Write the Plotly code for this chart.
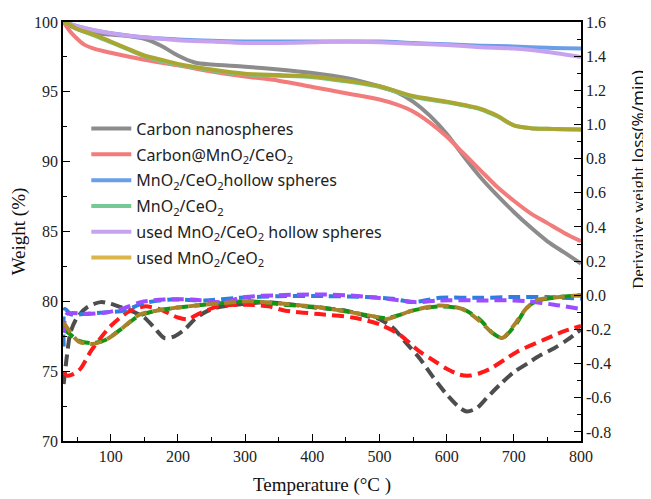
import plotly.graph_objects as go

# ---------------- data ----------------
names = ["Carbon nanospheres",
         "Carbon@MnO<sub>2</sub>/CeO<sub>2</sub>",
         "MnO<sub>2</sub>/CeO<sub>2</sub>hollow spheres",
         "MnO<sub>2</sub>/CeO<sub>2</sub>",
         "used MnO<sub>2</sub>/CeO<sub>2</sub> hollow spheres",
         "used MnO<sub>2</sub>/CeO<sub>2</sub>"]

# TGA weight (%) curves
t_gray = [30, 50, 75, 100, 125, 150, 175, 200, 225, 250, 300, 350, 400, 450, 500, 525, 550, 575, 600, 625, 650, 675, 700, 725, 750, 775, 800]
w_gray = [100, 99.5, 99.2, 99.1, 99.0, 98.8, 98.3, 97.6, 97.1, 96.95, 96.8, 96.6, 96.35, 96.0, 95.4, 95.0, 94.3, 93.3, 92.0, 90.4, 88.9, 87.6, 86.4, 85.3, 84.3, 83.5, 82.7]

t_red = [30, 40, 50, 60, 75, 100, 150, 200, 250, 300, 350, 400, 450, 500, 525, 550, 575, 600, 625, 650, 675, 700, 725, 750, 775, 800]
w_red = [100, 99.3, 98.8, 98.4, 98.1, 97.8, 97.3, 96.9, 96.45, 96.1, 95.8, 95.35, 94.9, 94.45, 94.1, 93.6, 92.8, 91.8, 90.6, 89.4, 88.2, 87.2, 86.3, 85.6, 84.9, 84.3]

t_blue = [30, 50, 75, 100, 150, 200, 250, 300, 350, 400, 450, 500, 550, 600, 650, 700, 750, 800]
w_blue = [100, 99.7, 99.4, 99.2, 98.9, 98.75, 98.65, 98.6, 98.6, 98.6, 98.6, 98.6, 98.5, 98.4, 98.3, 98.25, 98.15, 98.1]

t_green = [30, 40, 50, 75, 100, 125, 150, 175, 200, 250, 300, 350, 400, 450, 500, 550, 600, 650, 675, 700, 725, 750, 800]
w_green = [100, 99.8, 99.5, 99.05, 98.55, 98.05, 97.55, 97.2, 96.95, 96.55, 96.25, 96.15, 96.05, 95.75, 95.35, 94.65, 94.25, 93.75, 93.25, 92.6, 92.4, 92.35, 92.3]

t_purple = [30, 50, 100, 150, 200, 250, 300, 350, 400, 450, 500, 550, 600, 650, 700, 750, 800]
w_purple = [100, 99.7, 99.2, 98.9, 98.7, 98.6, 98.5, 98.5, 98.55, 98.6, 98.55, 98.45, 98.35, 98.2, 98.1, 97.85, 97.5]

t_olive = [30, 40, 50, 75, 100, 125, 150, 175, 200, 250, 300, 350, 400, 450, 500, 550, 600, 650, 675, 700, 725, 750, 800]
w_olive = [100, 99.8, 99.5, 99.1, 98.6, 98.1, 97.6, 97.3, 97.0, 96.6, 96.3, 96.2, 96.1, 95.8, 95.4, 94.7, 94.3, 93.8, 93.3, 92.6, 92.4, 92.35, 92.3]

# DTG derivative weight loss (%/min) curves
td_gray = [30, 35, 40, 50, 65, 85, 100, 115, 130, 150, 165, 180, 195, 210, 225, 240, 260, 300, 330, 360, 400, 450, 480, 500, 520, 540, 560, 580, 600, 620, 630, 645, 660, 680, 700, 720, 740, 760, 780, 800]
d_gray = [-0.52, -0.35, -0.22, -0.13, -0.07, -0.04, -0.05, -0.07, -0.09, -0.13, -0.19, -0.25, -0.24, -0.20, -0.14, -0.10, -0.07, -0.05, -0.04, -0.05, -0.07, -0.09, -0.12, -0.14, -0.19, -0.28, -0.37, -0.48, -0.58, -0.66, -0.68, -0.66, -0.60, -0.52, -0.45, -0.40, -0.35, -0.31, -0.26, -0.20]

td_red = [30, 35, 45, 55, 70, 85, 100, 125, 150, 175, 200, 215, 230, 260, 300, 335, 360, 410, 460, 500, 530, 560, 580, 600, 620, 635, 650, 665, 685, 705, 745, 775, 800]
d_red = [-0.45, -0.47, -0.46, -0.43, -0.33, -0.25, -0.18, -0.10, -0.065, -0.085, -0.13, -0.14, -0.11, -0.065, -0.055, -0.065, -0.09, -0.11, -0.13, -0.17, -0.23, -0.33, -0.38, -0.43, -0.465, -0.47, -0.455, -0.43, -0.38, -0.33, -0.26, -0.21, -0.18]

td_blue = [30, 32, 40, 60, 90, 120, 150, 190, 240, 290, 350, 420, 480, 520, 550, 590, 650, 700, 750, 800]
d_blue = [-0.30, -0.08, -0.11, -0.11, -0.10, -0.09, -0.045, -0.025, -0.03, -0.015, -0.005, -0.005, -0.01, -0.02, -0.04, -0.015, -0.015, -0.01, -0.01, -0.02]

td_green = [30, 37, 52, 73, 93, 118, 142, 168, 193, 227, 268, 307, 358, 410, 459, 500, 510, 530, 549, 589, 623, 649, 668, 683, 703, 718, 733, 768, 800]
d_green = [-0.20, -0.22, -0.265, -0.28, -0.26, -0.19, -0.12, -0.09, -0.075, -0.06, -0.045, -0.035, -0.055, -0.07, -0.10, -0.13, -0.135, -0.115, -0.09, -0.065, -0.08, -0.14, -0.22, -0.25, -0.17, -0.08, -0.035, -0.01, 0.0]

td_purple = [30, 35, 65, 95, 120, 145, 180, 220, 265, 300, 345, 410, 450, 485, 520, 555, 590, 650, 700, 720, 760, 800]
d_purple = [-0.22, -0.11, -0.11, -0.10, -0.075, -0.04, -0.025, -0.025, -0.04, -0.01, 0.0, 0.005, 0.0, -0.01, -0.025, -0.04, -0.03, -0.03, -0.03, -0.035, -0.055, -0.08]

td_brown = [30, 37, 52, 73, 93, 118, 142, 168, 193, 227, 268, 307, 358, 410, 459, 500, 510, 530, 549, 589, 623, 649, 668, 683, 703, 718, 733, 768, 800]
d_brown = [-0.16, -0.20, -0.27, -0.285, -0.26, -0.19, -0.115, -0.09, -0.075, -0.06, -0.045, -0.035, -0.05, -0.07, -0.10, -0.13, -0.14, -0.115, -0.09, -0.06, -0.08, -0.15, -0.22, -0.25, -0.16, -0.08, -0.03, -0.01, 0.0]

x_ticks = [100, 200, 300, 400, 500, 600, 700, 800]
y_ticks = [70, 75, 80, 85, 90, 95, 100]
y2_ticks = [-0.8, -0.6, -0.4, -0.2, 0.0, 0.2, 0.4, 0.6, 0.8, 1.0, 1.2, 1.4, 1.6]

# ---------------- styles ----------------
solid_colors = ["#8c8c8c", "#f27b7b", "#6a9ee8", "#74c995", "#c6a2ef", "#d9b54c"]
olive_plot = "#aaa632"
dash_colors = ["#4d4d4d", "#ff1a1a", "#2b7fe0", "#149414", "#9b4dff", "#a8832a"]
LW = 4
DASH = "12px,6px"

fig = go.Figure()

solid_data = [(t_gray, w_gray), (t_red, w_red), (t_blue, w_blue),
              (t_green, w_green), (t_purple, w_purple), (t_olive, w_olive)]
dtg_data = [(td_gray, d_gray), (td_red, d_red), (td_blue, d_blue),
            (td_green, d_green), (td_purple, d_purple), (td_brown, d_brown)]

# DTG dashed curves on right axis
for i, (tx, dy) in enumerate(dtg_data):
    fig.add_trace(go.Scatter(x=tx, y=dy, yaxis="y2", mode="lines",
                             line=dict(color=dash_colors[i], width=LW, dash=DASH, shape="spline", smoothing=0.8),
                             showlegend=False, hoverinfo="skip"))

# TGA solid curves on left axis
for i, (tx, wy) in enumerate(solid_data):
    col = olive_plot if i == 5 else solid_colors[i]
    fig.add_trace(go.Scatter(x=tx, y=wy, mode="lines",
                             line=dict(color=col, width=LW, shape="spline", smoothing=0.8),
                             showlegend=False, hoverinfo="skip"))

# legend entries
for i, nm in enumerate(names):
    fig.add_trace(go.Scatter(x=[None], y=[None], mode="lines", name=nm, legendgroup="g%d" % i,
                             line=dict(color=solid_colors[i], width=LW)))

serif = "Liberation Serif, Times New Roman, serif"

# page body has an 8px margin: figure is 643x491 placed at (8, 8)
fig.update_layout(
    width=643, height=491,
    margin=dict(l=55, r=70, t=14, b=58, autoexpand=False),
    paper_bgcolor="white", plot_bgcolor="white",
    showlegend=True,
    legend=dict(x=0.045, y=0.786, xanchor="left", yanchor="top",
                bgcolor="rgba(0,0,0,0)", borderwidth=0,
                font=dict(family="Noto Sans, sans-serif", size=16, color="#222"),
                itemwidth=40, tracegroupgap=2),
    xaxis=dict(range=[29, 800], tickvals=x_ticks, ticktext=[str(v) for v in x_ticks],
               automargin=False,
               ticks="inside", ticklen=7, tickwidth=1.3, tickcolor="black",
               minor=dict(dtick=50, tick0=0, ticks="inside", ticklen=4, tickcolor="black", tickwidth=1.2),
               showline=True, linecolor="black", linewidth=1.5, mirror=True,
               showgrid=False, zeroline=False,
               tickfont=dict(family=serif, size=16, color="#222"),
               title=dict(text="Temperature (°C )", font=dict(family=serif, size=19, color="#111"), standoff=14)),
    yaxis=dict(range=[70, 100], tickvals=y_ticks, ticktext=[str(v) for v in y_ticks],
               automargin=False,
               ticks="inside", ticklen=7, tickwidth=1.3, tickcolor="black",
               minor=dict(dtick=2.5, tick0=70, ticks="inside", ticklen=4, tickcolor="black", tickwidth=1.2),
               showline=True, linecolor="black", linewidth=1.5,
               showgrid=False, zeroline=False,
               tickfont=dict(family=serif, size=16, color="#222"),
               title=dict(text="Weight (%)", font=dict(family=serif, size=19, color="#111"), standoff=10)),
    yaxis2=dict(range=[-0.853, 1.6], overlaying="y", side="right",
                automargin=False,
                tickvals=y2_ticks, ticktext=["%.1f" % v for v in y2_ticks],
                ticks="inside", ticklen=7, tickwidth=1.3, tickcolor="black",
                minor=dict(dtick=0.1, tick0=0, ticks="inside", ticklen=4, tickcolor="black", tickwidth=1.2),
                showline=True, linecolor="black", linewidth=1.5,
                showgrid=False, zeroline=False,
                tickfont=dict(family=serif, size=16, color="#222")),
)

fig.add_annotation(xref="paper", yref="paper", x=(637 - 63) / 518, y=1 - (180 - 22) / 419,
                   text="Derivative weight <span style='font-family:Noto Sans, sans-serif'>loss(%/min)</span>",
                   textangle=-90, showarrow=False, xanchor="center", yanchor="middle",
                   font=dict(family=serif, size=17, color="#111"))

fig.write_html("out.html")
